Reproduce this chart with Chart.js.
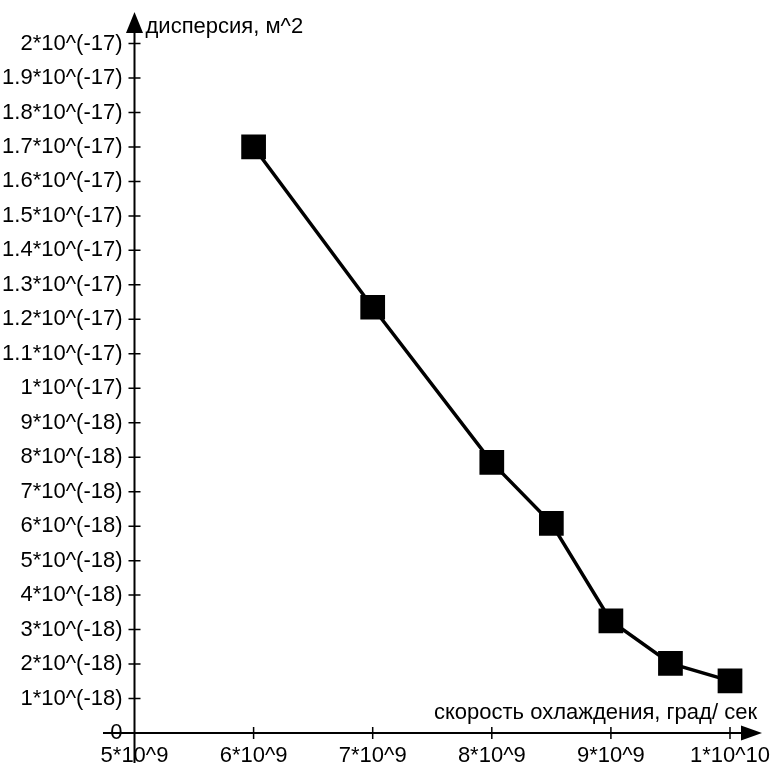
<!DOCTYPE html>
<html>
<head>
<meta charset="utf-8">
<script src="https://cdn.jsdelivr.net/npm/chart.js@4"></script>
<style>
  html, body { margin: 0; padding: 0; background: #fff; }
  canvas { display: block; }
</style>
</head>
<body>
<canvas id="chart" width="771" height="763"></canvas>
<script>
// ---- data ----
const coolingRate = [6e9, 7e9, 8e9, 8.5e9, 9e9, 9.5e9, 1e10];
const dispersion  = [1.7e-17, 1.235e-17, 7.85e-18, 6.08e-18, 3.25e-18, 2.02e-18, 1.51e-18];

const xTickValues = [5e9, 6e9, 7e9, 8e9, 9e9, 1e10];
const xTickLabels = ['5*10^9', '6*10^9', '7*10^9', '8*10^9', '9*10^9', '1*10^10'];

const yTickValues = [0, 1e-18, 2e-18, 3e-18, 4e-18, 5e-18, 6e-18, 7e-18, 8e-18, 9e-18,
  1e-17, 1.1e-17, 1.2e-17, 1.3e-17, 1.4e-17, 1.5e-17, 1.6e-17, 1.7e-17, 1.8e-17, 1.9e-17, 2e-17];
const yTickLabels = ['0', '1*10^(-18)', '2*10^(-18)', '3*10^(-18)', '4*10^(-18)', '5*10^(-18)',
  '6*10^(-18)', '7*10^(-18)', '8*10^(-18)', '9*10^(-18)', '1*10^(-17)', '1.1*10^(-17)',
  '1.2*10^(-17)', '1.3*10^(-17)', '1.4*10^(-17)', '1.5*10^(-17)', '1.6*10^(-17)',
  '1.7*10^(-17)', '1.8*10^(-17)', '1.9*10^(-17)', '2*10^(-17)'];

const xTitle = 'скорость охлаждения, град/ сек';
const yTitle = 'дисперсия, м^2';

const FONT = "'Liberation Sans', Arial, sans-serif";
const FONT_SIZE = 22;

// axes with arrows, crossing tick marks and titles
const arrowAxes = {
  id: 'arrowAxes',
  beforeDatasetsDraw(chart) {
    const { ctx, scales: { x, y } } = chart;
    const x0 = x.getPixelForValue(xTickValues[0]);
    const y0 = y.getPixelForValue(0);
    ctx.save();
    ctx.strokeStyle = '#000';
    ctx.fillStyle = '#000';
    ctx.lineWidth = 2;

    // y axis + arrow
    ctx.beginPath();
    ctx.moveTo(x0, chart.height);
    ctx.lineTo(x0, 30);
    ctx.stroke();
    ctx.beginPath();
    ctx.moveTo(x0, 12);
    ctx.lineTo(x0 - 8.5, 33);
    ctx.lineTo(x0 + 8.5, 33);
    ctx.closePath();
    ctx.fill();

    // x axis + arrow
    ctx.beginPath();
    ctx.moveTo(103, y0);
    ctx.lineTo(744, y0);
    ctx.stroke();
    ctx.beginPath();
    ctx.moveTo(762, y0);
    ctx.lineTo(741, y0 - 7.5);
    ctx.lineTo(741, y0 + 7.5);
    ctx.closePath();
    ctx.fill();

    // tick marks
    ctx.lineWidth = 1.5;
    ctx.beginPath();
    y.ticks.forEach(t => {
      if (t.value === 0) return;
      const py = y.getPixelForValue(t.value);
      ctx.moveTo(x0 - 6, py);
      ctx.lineTo(x0 + 6, py);
    });
    x.ticks.forEach(t => {
      if (t.value === xTickValues[0]) return;
      const px = x.getPixelForValue(t.value);
      ctx.moveTo(px, y0 - 6);
      ctx.lineTo(px, y0 + 6);
    });
    ctx.stroke();

    // titles
    ctx.font = FONT_SIZE + 'px ' + FONT;
    ctx.textBaseline = 'middle';
    ctx.textAlign = 'left';
    ctx.fillText(yTitle, x0 + 11, 27);
    ctx.textAlign = 'right';
    ctx.fillText(xTitle, 757, 713);
    ctx.restore();
  }
};

new Chart(document.getElementById('chart'), {
  type: 'scatter',
  data: {
    datasets: [{
      data: coolingRate.map((v, i) => ({ x: v, y: dispersion[i] })),
      showLine: true,
      clip: false,
      borderColor: '#000',
      backgroundColor: '#000',
      borderWidth: 3.5,
      pointStyle: 'rect',
      pointRadius: 15,
      pointHoverRadius: 15,
    }]
  },
  options: {
    responsive: false,
    animation: false,
    events: [],
    layout: { padding: { top: 43.5, right: 41, left: 0, bottom: 0 } },
    plugins: { legend: { display: false }, tooltip: { enabled: false } },
    scales: {
      x: {
        type: 'linear',
        min: xTickValues[0],
        max: xTickValues[xTickValues.length - 1],
        grid: { display: false, drawTicks: false },
        border: { display: false },
        afterBuildTicks: s => { s.ticks = xTickValues.map(v => ({ value: v })); },
        afterFit: s => { s.height = 30; s.paddingLeft = 0; s.paddingRight = 0; },
        ticks: {
          color: '#000',
          font: { family: FONT, size: FONT_SIZE },
          padding: 10,
          maxRotation: 0,
          autoSkip: false,
          callback: (v, i) => xTickLabels[i]
        }
      },
      y: {
        type: 'linear',
        min: 0,
        max: yTickValues[yTickValues.length - 1],
        grid: { display: false, drawTicks: false },
        border: { display: false },
        afterBuildTicks: s => { s.ticks = yTickValues.map(v => ({ value: v })); },
        afterFit: s => { s.width = 134.5; s.paddingTop = 0; s.paddingBottom = 0; },
        ticks: {
          color: '#000',
          font: { family: FONT, size: FONT_SIZE },
          padding: 12,
          autoSkip: false,
          callback: (v, i) => yTickLabels[i]
        }
      }
    }
  },
  plugins: [arrowAxes]
});
</script>
</body>
</html>
